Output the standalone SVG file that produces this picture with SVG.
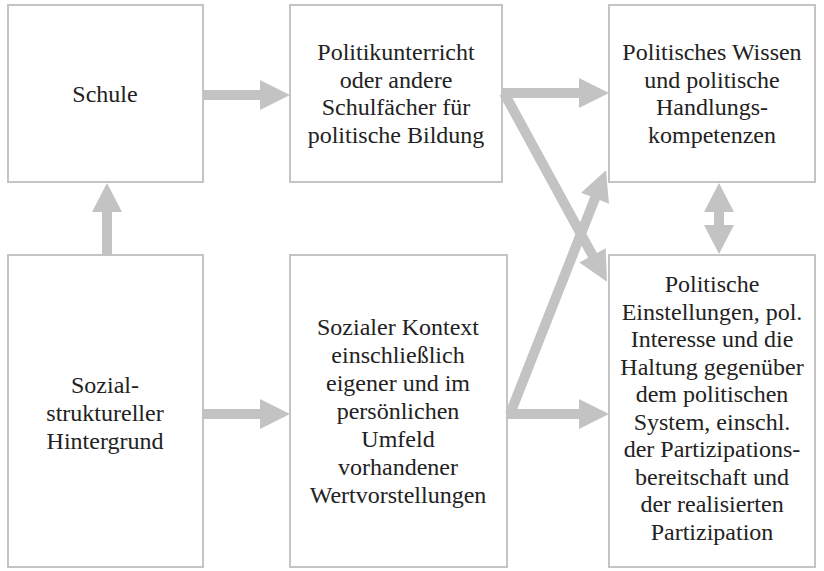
<svg xmlns="http://www.w3.org/2000/svg" width="824" height="571" viewBox="0 0 824 571">
<style>
.box{fill:#fff;stroke:#c4c4c4;stroke-width:2}
.t{font-size:24px;fill:#222;text-anchor:middle}
.arr{fill:#c3c3c3}
</style>
<rect width="824" height="571" fill="#fff"/>
<g id="nodes" font-family="Liberation Serif">
<g id="n-schule"><rect class="box" x="8" y="5" width="195" height="177"/><text class="t" x="105" y="102">Schule</text></g>
<g id="n-politikunterricht"><rect class="box" x="290" y="5" width="212" height="177"/>
<text class="t"><tspan x="396" y="60">Politikunterricht</tspan><tspan x="396" y="87.5">oder andere</tspan><tspan x="396" y="115">Schulfächer für</tspan><tspan x="396" y="142.5">politische Bildung</tspan></text></g>
<g id="n-wissen"><rect class="box" x="609" y="5" width="206" height="177"/>
<text class="t"><tspan x="712" y="60">Politisches Wissen</tspan><tspan x="712" y="87.5">und politische</tspan><tspan x="712" y="115">Handlungs-</tspan><tspan x="712" y="142.5">kompetenzen</tspan></text></g>
<g id="n-sozial"><rect class="box" x="8" y="255" width="195" height="312"/>
<text class="t"><tspan x="105" y="393">Sozial-</tspan><tspan x="105" y="421">struktureller</tspan><tspan x="105" y="449">Hintergrund</tspan></text></g>
<g id="n-kontext"><rect class="box" x="290" y="255" width="217" height="312"/>
<text class="t"><tspan x="398" y="335">Sozialer Kontext</tspan><tspan x="398" y="363">einschließlich</tspan><tspan x="398" y="391">eigener und im</tspan><tspan x="398" y="419">persönlichen</tspan><tspan x="398" y="447">Umfeld</tspan><tspan x="398" y="475">vorhandener</tspan><tspan x="398" y="503">Wertvorstellungen</tspan></text></g>
<g id="n-einstellungen"><rect class="box" x="609" y="255" width="206" height="312"/>
<text class="t"><tspan x="712" y="292">Politische</tspan><tspan x="712" y="319.5">Einstellungen, pol.</tspan><tspan x="712" y="347">Interesse und die</tspan><tspan x="712" y="374.5">Haltung gegenüber</tspan><tspan x="712" y="402">dem politischen</tspan><tspan x="712" y="429.5">System, einschl.</tspan><tspan x="712" y="457">der Partizipations-</tspan><tspan x="712" y="484.5">bereitschaft und</tspan><tspan x="712" y="512">der realisierten</tspan><tspan x="712" y="539.5">Partizipation</tspan></text></g>
</g>
<g id="connectors">
<polygon class="arr" points="204,90 260,90 260,80 290,95 260,110 260,100 204,100"/>
<polygon class="arr" points="503,88 579,88 579,78 609,93 579,108 579,98 503,98"/>
<polygon class="arr" points="204,409 260,409 260,399 290,414 260,429 260,419 204,419"/>
<polygon class="arr" points="508,409 579,409 579,399 609,414 579,429 579,419 508,419"/>
<polygon class="arr" points="102,254 102,212 92,212 107,183 122,212 112,212 112,254"/>
<polygon class="arr" points="714,212 704,212 719,183 734,212 724,212 724,225 734,225 719,254 704,225 714,225"/>
<g transform="translate(504,93) rotate(61.4)"><polygon class="arr" points="0,-5 185,-5 185,-15 215,0 185,15 185,5 0,5"/></g>
<g transform="translate(510,414) rotate(-68.5)"><polygon class="arr" points="0,-5 232,-5 232,-15 262,0 232,15 232,5 0,5"/></g>
</g>
</svg>
